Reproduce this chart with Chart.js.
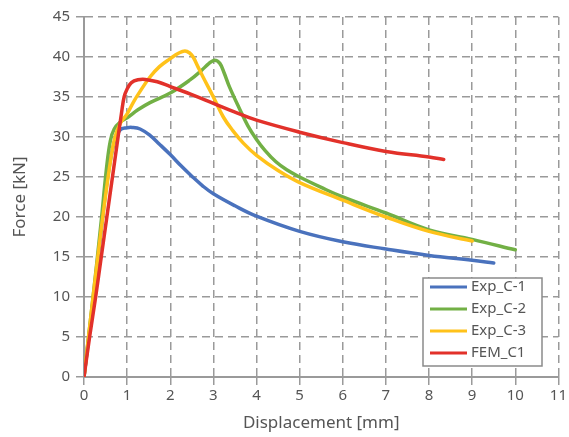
<!DOCTYPE html>
<html>
<head>
<meta charset="utf-8">
<script src="https://cdn.jsdelivr.net/npm/chart.js@4"></script>
<style>
  html, body { margin: 0; padding: 0; background: #fff; }
  #wrap { width: 569px; height: 437px; }
</style>
</head>
<body>
<div id="wrap"><canvas id="forceChart"></canvas></div>
<script>
// data: displacement [mm] / force [kN]
const labels = ["Exp_C-1", "Exp_C-2", "Exp_C-3", "FEM_C1"];
const colors = ["#4a72bd", "#72b045", "#ffc21a", "#e2312a"];

const c1x = [0, 0.2, 0.4, 0.55, 0.7, 0.84, 1.0, 1.11, 1.3, 1.53, 1.75, 2, 2.25, 2.5, 2.75, 3, 3.5, 4, 5, 6, 7, 8, 9, 9.5];
const c1y = [0, 9, 18.5, 25, 29.3, 30.9, 31.15, 31.2, 31, 30.2, 29.1, 27.8, 26.4, 25.1, 23.9, 22.9, 21.4, 20.1, 18.2, 16.9, 16.0, 15.2, 14.6, 14.25];

const c2x = [0, 0.2, 0.4, 0.52, 0.61, 0.7, 0.85, 1, 1.25, 1.53, 2, 2.45, 2.72, 2.9, 3.03, 3.15, 3.25, 3.37, 3.6, 3.8, 4, 4.2, 4.45, 4.7, 5, 5.5, 6, 7, 8, 9, 10];
const c2y = [0, 9.5, 19.5, 26, 29.5, 31, 31.9, 32.4, 33.4, 34.3, 35.5, 37.1, 38.3, 39.2, 39.6, 39.2, 38, 36.3, 33.6, 31.4, 29.7, 28.3, 26.9, 25.9, 25.0, 23.7, 22.5, 20.5, 18.4, 17.2, 15.9];

const c3x = [0, 0.2, 0.4, 0.6, 0.72, 0.85, 1, 1.15, 1.3, 1.53, 1.75, 2, 2.2, 2.34, 2.45, 2.53, 2.64, 2.76, 3, 3.23, 3.45, 3.7, 4, 4.5, 5, 6, 7, 8, 9];
const c3y = [0, 9.5, 18.5, 26.5, 30, 31.8, 32.9, 34.4, 35.7, 37.5, 38.8, 39.8, 40.5, 40.75, 40.5, 40, 38.8, 37.5, 35, 32.5, 30.8, 29.2, 27.7, 25.8, 24.3, 22.1, 20, 18.2, 17];

const femX = [0, 0.13, 0.27, 0.4, 0.53, 0.66, 0.79, 0.87, 0.93, 1.0, 1.1, 1.25, 1.42, 1.7, 2, 2.5, 3, 3.5, 4, 5, 6, 7, 8, 8.34];
const femY = [0, 5, 10, 15, 20, 25, 30, 33, 35, 36, 36.8, 37.15, 37.2, 36.9, 36.3, 35.3, 34.2, 33.1, 32.1, 30.6, 29.3, 28.2, 27.5, 27.2];

function pts(xs, ys) {
    return xs.map((x, i) => ({ x: x, y: ys[i] }));
}

const series = [pts(c1x, c1y), pts(c2x, c2y), pts(c3x, c3y), pts(femX, femY)];

// legend box inside the plot, bottom right
const boxLegend = {
    id: "boxLegend",
    afterDraw(chart) {
        const ctx = chart.ctx;
        const x0 = 423, y0 = 278, w = 119, h = 88;
        ctx.save();
        ctx.fillStyle = "#fff";
        ctx.fillRect(x0, y0, w, h);
        ctx.strokeStyle = "#8a8a8a";
        ctx.lineWidth = 1.5;
        ctx.strokeRect(x0, y0, w, h);
        ctx.font = "15px 'Noto Sans'";
        ctx.textBaseline = "middle";
        chart.data.datasets.forEach((ds, i) => {
            const yy = y0 + 9 + i * 22;
            ctx.strokeStyle = ds.borderColor;
            ctx.lineWidth = 3;
            ctx.beginPath();
            ctx.moveTo(x0 + 7, yy);
            ctx.lineTo(x0 + 44, yy);
            ctx.stroke();
            ctx.fillStyle = "#555";
            ctx.fillText(ds.label, x0 + 48, yy);
        });
        ctx.restore();
    }
};

const ctx = document.getElementById("forceChart").getContext("2d");
const chart = new Chart(ctx, {
    type: "line",
    data: {
        datasets: series.map((d, i) => ({
            label: labels[i],
            data: d,
            borderColor: colors[i],
            backgroundColor: colors[i],
            borderWidth: 3.5,
            borderCapStyle: "round",
            borderJoinStyle: "round",
            pointRadius: 0,
            tension: 0.4,
            order: 4 - i
        }))
    },
    options: {
        responsive: true,
        maintainAspectRatio: false,
        animation: false,
        layout: { padding: { top: 17, right: 7, left: 6, bottom: 0 } },
        plugins: {
            legend: { display: false },
            tooltip: { enabled: false }
        },
        scales: {
            x: {
                type: "linear",
                min: 0,
                max: 11,
                ticks: { stepSize: 1, color: "#555", font: { family: "Noto Sans", size: 15 }, padding: 2 },
                grid: { color: "#9a9a9a", lineWidth: 1.5, tickLength: 8, tickBorderDash: [], tickColor: "#9a9a9a" },
                border: { display: true, color: "#9a9a9a", width: 2, dash: [8, 5] },
                title: { display: true, text: "Displacement [mm]", color: "#555", font: { family: "Noto Sans", size: 17 } },
                afterFit(scale) { scale.height = 60; }
            },
            y: {
                min: 0,
                max: 45,
                ticks: { stepSize: 5, color: "#555", font: { family: "Noto Sans", size: 15 }, padding: 6 },
                grid: { color: "#9a9a9a", lineWidth: 1.5, tickLength: 8, tickBorderDash: [], tickColor: "#9a9a9a" },
                border: { display: true, color: "#9a9a9a", width: 2, dash: [8, 5] },
                title: { display: true, text: "Force [kN]", color: "#555", font: { family: "Noto Sans", size: 17 } },
                afterFit(scale) { scale.width = 78; }
            }
        }
    },
    plugins: [boxLegend]
});
</script>
</body>
</html>
